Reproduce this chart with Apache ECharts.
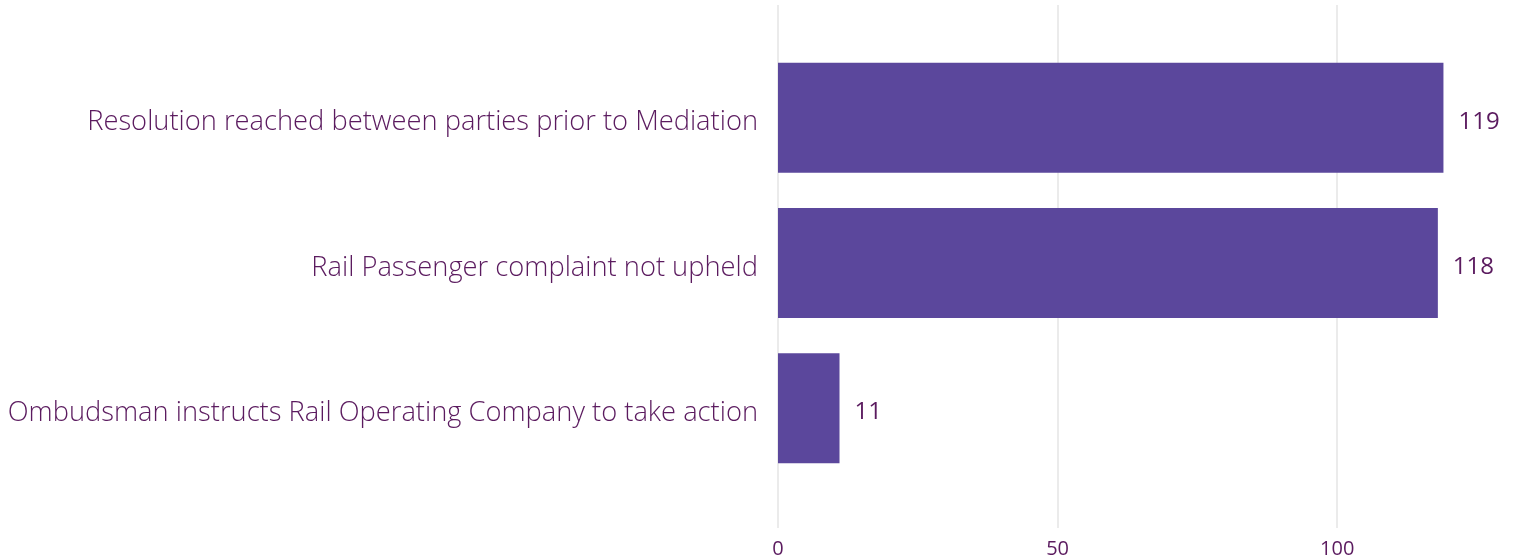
<!DOCTYPE html>
<html>
<head>
<meta charset="utf-8">
<script src="https://cdn.jsdelivr.net/npm/echarts@6/dist/echarts.min.js"></script>
<style>
  html, body { margin: 0; padding: 0; background: #fff; }
  #chart { width: 1517px; height: 560px; }
</style>
</head>
<body>
<div id="chart"></div>
<script>
// categories top to bottom
const categories = [
  'Resolution reached between parties prior to Mediation',
  'Rail Passenger complaint not upheld',
  'Ombudsman instructs Rail Operating Company to take action'
];
const counts = [119, 118, 11];
const xTicks = [0, 50, 100];

const textColor = '#5b1b5f';
const barColor = '#5b479c';

const chart = echarts.init(document.getElementById('chart'));

const option = {
  animation: false,
  grid: [
    // bars
    { left: 778, right: 40, top: 45, height: 436 },
    // gridlines + x labels
    { left: 778, right: 40, top: 5, bottom: 32 }
  ],
  xAxis: [
    {
      gridIndex: 0,
      type: 'value',
      min: 0,
      max: 125,
      show: false
    },
    {
      gridIndex: 1,
      type: 'value',
      min: 0,
      max: 125,
      axisLine: { show: false },
      axisTick: { show: false, customValues: xTicks },
      splitLine: { show: true, lineStyle: { color: '#ebebeb', width: 2 } },
      axisLabel: {
        customValues: xTicks,
        color: textColor,
        fontFamily: 'Open Sans',
        fontSize: 20,
        margin: 11
      }
    }
  ],
  yAxis: [
    {
      gridIndex: 0,
      type: 'category',
      inverse: true,
      data: categories,
      axisLine: { show: false },
      axisTick: { show: false },
      axisLabel: {
        margin: 20,
        formatter: '{c|{value}}',
        rich: {
          c: {
            color: textColor,
            fontFamily: 'Open Sans',
            fontWeight: 300,
            fontSize: 27.3,
            padding: [10, 0, 0, 0]
          }
        }
      }
    },
    {
      gridIndex: 1,
      type: 'value',
      show: false
    }
  ],
  series: [
    {
      type: 'bar',
      xAxisIndex: 0,
      yAxisIndex: 0,
      data: counts,
      barWidth: 110,
      itemStyle: { color: barColor },
      label: {
        show: true,
        position: 'right',
        distance: 15,
        offset: [0, 4],
        color: textColor,
        fontFamily: 'Open Sans',
        fontSize: 24
      },
      z: 3
    }
  ]
};

chart.setOption(option);
</script>
</body>
</html>
